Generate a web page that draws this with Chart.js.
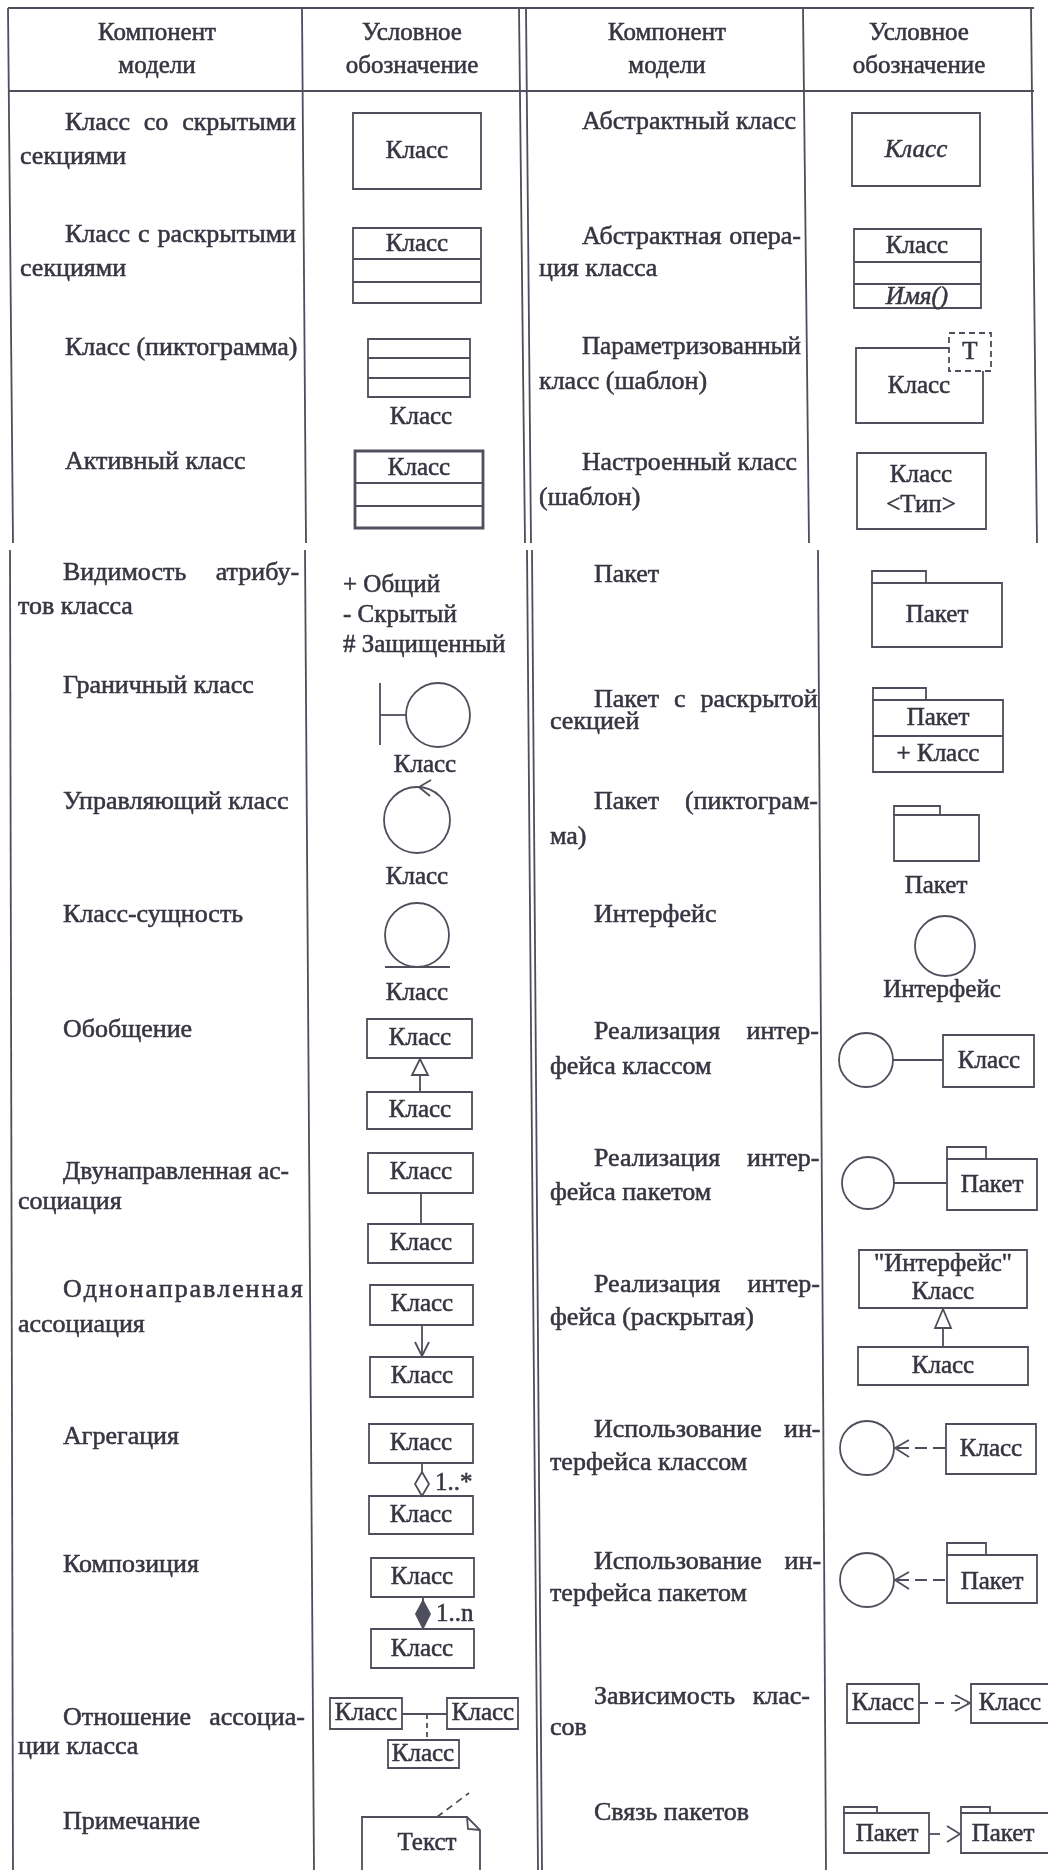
<!DOCTYPE html>
<html>
<head>
<meta charset="utf-8">
<script src="https://cdn.jsdelivr.net/npm/chart.js@4.4.1/dist/chart.umd.min.js"></script>
<style>
  html, body { margin: 0; padding: 0; background: #fff; }
  canvas { display: block; }
</style>
</head>
<body>
<canvas id="uml" width="1048" height="1870"></canvas>
<script>
// table content
const headerLabels = [["Компонент", "модели"], ["Условное", "обозначение"]];

const leftComponents = [
  ["Класс со скрытыми", "секциями"],
  ["Класс с раскрытыми", "секциями"],
  ["Класс (пиктограмма)"],
  ["Активный класс"],
  ["Видимость атрибу-", "тов класса"],
  ["Граничный класс"],
  ["Управляющий класс"],
  ["Класс-сущность"],
  ["Обобщение"],
  ["Двунаправленная ас-", "социация"],
  ["Однонаправленная", "ассоциация"],
  ["Агрегация"],
  ["Композиция"],
  ["Отношение ассоциа-", "ции класса"],
  ["Примечание"],
];

const rightComponents = [
  ["Абстрактный класс"],
  ["Абстрактная опера-", "ция класса"],
  ["Параметризованный", "класс (шаблон)"],
  ["Настроенный класс", "(шаблон)"],
  ["Пакет"],
  ["Пакет с раскрытой", "секцией"],
  ["Пакет (пиктограм-", "ма)"],
  ["Интерфейс"],
  ["Реализация интер-", "фейса классом"],
  ["Реализация интер-", "фейса пакетом"],
  ["Реализация интер-", "фейса (раскрытая)"],
  ["Использование ин-", "терфейса классом"],
  ["Использование ин-", "терфейса пакетом"],
  ["Зависимость клас-", "сов"],
  ["Связь пакетов"],
];

const leftSymbols = ["hiddenClass", "expandedClass", "pictogramClass", "activeClass",
  "visibility", "boundary", "control", "entity", "generalization", "biAssociation",
  "uniAssociation", "aggregation", "composition", "associationClass", "note"];
const rightSymbols = ["abstractClass", "abstractOperation", "parameterized", "boundClass",
  "package", "packageExpanded", "packagePictogram", "interface", "realizeClass",
  "realizePackage", "realizeExpanded", "useClass", "usePackage", "dependency", "packageLink"];

const symbolNames = { cls: "Класс", pkg: "Пакет", iface: "Интерфейс", stereo: "\"Интерфейс\"",
  op: "Имя()", param: "T", type: "<Тип>", note: "Текст", member: "+ Класс" };
const visibilityLabels = ["+ Общий", "- Скрытый", "# Защищенный"];
const multiplicityLabels = ["1..*", "1..n"];

// layout (page units = px of the scan)
const leftRowY = [[123, 157], [235, 269], [348], [462], [573, 607], [686], [802], [915], [1030],
  [1172, 1202], [1290, 1325], [1437], [1565], [1718, 1747], [1822]];
const rightRowY = [[122], [237, 269], [347, 382], [463, 498], [575], [700, 722], [802, 837], [915],
  [1032, 1067], [1159, 1193], [1285, 1318], [1430, 1463], [1562, 1594], [1697, 1728], [1813]];
// where a justified first line stops, when it is short of the cell edge
const leftLineEnd = { 9: 289 };
const rightLineEnd = { 3: 797, 13: 810 };

const INK = "#363642";
const RULE = "#4e4e5c";
const SERIF = "'Liberation Serif', 'DejaVu Serif', serif";
const BODY = "26px " + SERIF;
const SMALL = "25px " + SERIF;
const HEAD = "25px " + SERIF;

const tablePlugin = {
  id: "umlTable",
  afterDraw(chart) {
    const ctx = chart.ctx;
    const X = (v) => chart.scales.x.getPixelForValue(v);
    const Y = (v) => chart.scales.y.getPixelForValue(v);

    const poly = (pts, opts = {}) => {
      ctx.save();
      ctx.strokeStyle = RULE;
      ctx.lineWidth = opts.lw || 1.8;
      ctx.setLineDash(opts.dash || []);
      ctx.beginPath();
      pts.forEach(([x, y], i) => (i ? ctx.lineTo(X(x), Y(y)) : ctx.moveTo(X(x), Y(y))));
      if (opts.close) ctx.closePath();
      if (opts.fill) { ctx.fillStyle = RULE; ctx.fill(); }
      ctx.stroke();
      ctx.restore();
    };
    const rect = (x1, y1, x2, y2, opts = {}) =>
      poly([[x1, y1], [x2, y1], [x2, y2], [x1, y2]], Object.assign({ close: true }, opts));
    const hline = (x1, x2, y) => poly([[x1, y], [x2, y]]);
    const circle = (cx, cy, r) => {
      ctx.save();
      ctx.strokeStyle = RULE;
      ctx.lineWidth = 1.8;
      ctx.beginPath();
      ctx.arc(X(cx), Y(cy), Math.abs(X(cx + r) - X(cx)), 0, Math.PI * 2);
      ctx.stroke();
      ctx.restore();
    };
    const ink = (font) => {
      ctx.fillStyle = INK;
      ctx.strokeStyle = INK;
      ctx.lineWidth = 0.55;
      ctx.font = font;
      ctx.textBaseline = "middle";
    };
    const put = (s, px, py, maxW) => {
      if (maxW) { ctx.fillText(s, px, py, maxW); ctx.strokeText(s, px, py, maxW); }
      else { ctx.fillText(s, px, py); ctx.strokeText(s, px, py); }
    };
    const text = (s, x, y, align = "center", font = BODY) => {
      ctx.save();
      ink(font);
      ctx.textAlign = align;
      put(s, X(x), Y(y));
      ctx.restore();
    };
    const label = (s, x, y) => text(s, x, y, "center", SMALL);
    const italic = (s, x, y) => text(s, x, y, "center", "italic " + SMALL);
    const justified = (s, x1, x2, y) => {
      ctx.save();
      ink(BODY);
      const words = s.split(" ");
      const parts = words.length > 1 ? words : Array.from(s);
      const widths = parts.map((w) => ctx.measureText(w).width);
      const total = widths.reduce((a, b) => a + b, 0);
      const span = X(x2) - X(x1);
      const gap = parts.length > 1 ? (span - total) / (parts.length - 1) : 0;
      const natural = ctx.measureText(s).width;
      if (gap <= 0 || natural >= span) {
        put(s, X(x1), Y(y), span);
      } else {
        let cx = X(x1);
        parts.forEach((w, i) => { put(w, cx, Y(y)); cx += widths[i] + gap; });
      }
      ctx.restore();
    };
    const pkgShape = (x1, tabR, tabTop, top, x2, bottom) => {
      rect(x1, tabTop, tabR, top);
      rect(x1, top, x2, bottom);
    };
    const cls = symbolNames.cls, pkg = symbolNames.pkg;

    // ruling: upper sheet
    hline(8, 1034, 8);
    hline(8, 1034, 91);
    [[8, 13], [302, 306], [519, 525], [526, 531], [803, 809], [1031, 1037]]
      .forEach(([a, b]) => poly([[a, 8], [b, 543]]));
    // ruling: lower sheet
    [[10, 13], [305, 314], [527, 538], [532, 542], [818, 826]]
      .forEach(([a, b]) => poly([[a, 550], [b, 1870]]));

    // header
    [[157, 0], [412, 1], [667, 0], [919, 1]].forEach(([cx, k]) => {
      text(headerLabels[k][0], cx, 33, "center", HEAD);
      text(headerLabels[k][1], cx, 66, "center", HEAD);
    });

    // component names
    leftComponents.forEach((lines, i) => {
      const ys = leftRowY[i];
      const first = i < 4 ? 65 : 63;
      const right = leftLineEnd[i] || (i < 4 ? 296 : 299 + (ys[0] - 550) / 200);
      if (lines.length > 1) {
        justified(lines[0], first, right, ys[0]);
        text(lines[1], i < 4 ? 20 : 18, ys[1], "left");
      } else {
        text(lines[0], first, ys[0], "left");
      }
    });
    rightComponents.forEach((lines, i) => {
      const ys = rightRowY[i];
      const top = i < 4;
      const first = top ? 582 : 594;
      const right = rightLineEnd[i] || (top ? 801 : 817 + (ys[0] - 550) / 250);
      if (lines.length > 1) {
        justified(lines[0], first, right, ys[0]);
        text(lines[1], top ? 539 : 550, ys[1], "left");
      } else {
        text(lines[0], first, ys[0], "left");
      }
    });

    // notation drawings
    const draw = {
      hiddenClass() { rect(353, 113, 481, 189); label(cls, 417, 151); },
      expandedClass() { rect(353, 228, 481, 303); hline(353, 481, 259); hline(353, 481, 282); label(cls, 417, 244); },
      pictogramClass() { rect(368, 339, 470, 397); hline(368, 470, 358); hline(368, 470, 378); label(cls, 421, 417); },
      activeClass() { rect(355, 451, 483, 528, { lw: 2.8 }); hline(355, 483, 483); hline(355, 483, 506); label(cls, 419, 468); },
      visibility() { visibilityLabels.forEach((s, k) => text(s, 343, 585 + k * 30, "left", SMALL)); },
      boundary() { poly([[380, 683], [380, 745]]); hline(380, 406, 715); circle(438, 715, 32); label(cls, 425, 765); },
      control() { circle(417, 820, 33); poly([[431, 780], [419, 787], [430, 796]]); label(cls, 417, 877); },
      entity() { circle(417, 935, 32); hline(385, 450, 967); label(cls, 417, 993); },
      generalization() {
        rect(367, 1019, 472, 1058); label(cls, 420, 1038);
        poly([[420, 1059], [412, 1075], [428, 1075]], { close: true });
        poly([[420, 1075], [420, 1092]]);
        rect(367, 1092, 472, 1129); label(cls, 420, 1110);
      },
      biAssociation() {
        rect(368, 1153, 473, 1193); label(cls, 421, 1172);
        poly([[421, 1193], [421, 1224]]);
        rect(368, 1224, 473, 1263); label(cls, 421, 1243);
      },
      uniAssociation() {
        rect(370, 1285, 473, 1325); label(cls, 422, 1304);
        poly([[422, 1325], [422, 1357]]);
        poly([[415, 1342], [422, 1356], [429, 1342]]);
        rect(370, 1357, 473, 1397); label(cls, 422, 1376);
      },
      aggregation() {
        rect(369, 1424, 473, 1463); label(cls, 421, 1443);
        poly([[422, 1463], [422, 1472]]);
        poly([[422, 1472], [429, 1484], [422, 1496], [415, 1484]], { close: true });
        text(multiplicityLabels[0], 435, 1483, "left", SMALL);
        rect(369, 1496, 473, 1534); label(cls, 421, 1515);
      },
      composition() {
        rect(371, 1558, 474, 1597); label(cls, 422, 1577);
        poly([[423, 1597], [423, 1601]]);
        poly([[423, 1601], [430, 1614], [423, 1628], [416, 1614]], { close: true, fill: true });
        text(multiplicityLabels[1], 436, 1614, "left", SMALL);
        rect(371, 1629, 474, 1668); label(cls, 422, 1649);
      },
      associationClass() {
        rect(330, 1698, 402, 1729); label(cls, 366, 1713);
        rect(447, 1698, 518, 1729); label(cls, 483, 1713);
        hline(402, 447, 1714);
        poly([[427, 1714], [427, 1740]], { dash: [5, 4] });
        rect(388, 1740, 459, 1768); label(cls, 423, 1754);
      },
      note() {
        poly([[362, 1880], [362, 1817], [467, 1817], [480, 1830], [480, 1880]]);
        poly([[467, 1817], [468, 1829], [480, 1830]]);
        poly([[437, 1817], [469, 1793]], { dash: [7, 5] });
        label(symbolNames.note, 427, 1843);
      },

      abstractClass() { rect(852, 113, 980, 186); italic(cls, 916, 150); },
      abstractOperation() {
        rect(854, 229, 981, 308); hline(854, 981, 262); hline(854, 981, 284);
        label(cls, 917, 246); italic(symbolNames.op, 917, 297);
      },
      parameterized() {
        poly([[949, 348], [856, 348], [856, 423], [983, 423], [983, 371]]);
        rect(949, 333, 991, 371, { dash: [6, 4] });
        label(symbolNames.param, 970, 352);
        label(cls, 919, 386);
      },
      boundClass() { rect(857, 453, 986, 529); label(cls, 921, 475); label(symbolNames.type, 921, 505); },
      package() { pkgShape(872, 926, 571, 583, 1002, 647); label(pkg, 937, 615); },
      packageExpanded() {
        pkgShape(873, 926, 688, 700, 1003, 772); hline(873, 1003, 736);
        label(pkg, 938, 718); label(symbolNames.member, 938, 754);
      },
      packagePictogram() { pkgShape(894, 940, 806, 815, 979, 861); label(pkg, 936, 886); },
      interface() { circle(945, 946, 30); label(symbolNames.iface, 942, 990); },
      realizeClass() {
        circle(866, 1060, 27); hline(893, 943, 1060);
        rect(943, 1035, 1034, 1087); label(cls, 989, 1061);
      },
      realizePackage() {
        circle(868, 1183, 26); hline(894, 947, 1183);
        pkgShape(947, 986, 1147, 1159, 1037, 1210); label(pkg, 992, 1185);
      },
      realizeExpanded() {
        rect(859, 1250, 1027, 1308); label(symbolNames.stereo, 943, 1264); label(cls, 943, 1292);
        poly([[943, 1309], [935, 1328], [951, 1328]], { close: true });
        poly([[943, 1328], [943, 1347]]);
        rect(858, 1347, 1028, 1385); label(cls, 943, 1366);
      },
      useClass() {
        circle(867, 1448, 27);
        poly([[909, 1440], [895, 1448], [909, 1457]]);
        poly([[897, 1448], [946, 1448]], { dash: [12, 6] });
        rect(946, 1424, 1036, 1474); label(cls, 991, 1449);
      },
      usePackage() {
        circle(867, 1580, 27);
        poly([[909, 1572], [895, 1580], [909, 1589]]);
        poly([[897, 1580], [947, 1580]], { dash: [12, 6] });
        pkgShape(947, 986, 1543, 1555, 1037, 1603); label(pkg, 992, 1582);
      },
      dependency() {
        rect(847, 1684, 919, 1723); label(cls, 883, 1703);
        poly([[919, 1703], [968, 1703]], { dash: [9, 7] });
        poly([[955, 1695], [970, 1703], [955, 1711]]);
        rect(971, 1684, 1054, 1723); label(cls, 1010, 1703);
      },
      packageLink() {
        pkgShape(844, 877, 1807, 1813, 929, 1853); label(pkg, 887, 1834);
        hline(929, 940, 1834);
        poly([[947, 1826], [960, 1834], [947, 1842]]);
        pkgShape(961, 990, 1807, 1813, 1054, 1853); label(pkg, 1003, 1834);
      },
    };
    leftSymbols.forEach((k) => draw[k]());
    rightSymbols.forEach((k) => draw[k]());
  },
};

new Chart(document.getElementById("uml"), {
  type: "scatter",
  data: { datasets: [] },
  options: {
    responsive: false,
    animation: false,
    layout: { padding: 0 },
    plugins: { legend: { display: false }, tooltip: { enabled: false } },
    scales: {
      x: { type: "linear", min: 0, max: 1048, display: false },
      y: { type: "linear", min: 0, max: 1870, reverse: true, display: false },
    },
  },
  plugins: [tablePlugin],
});
</script>
</body>
</html>
